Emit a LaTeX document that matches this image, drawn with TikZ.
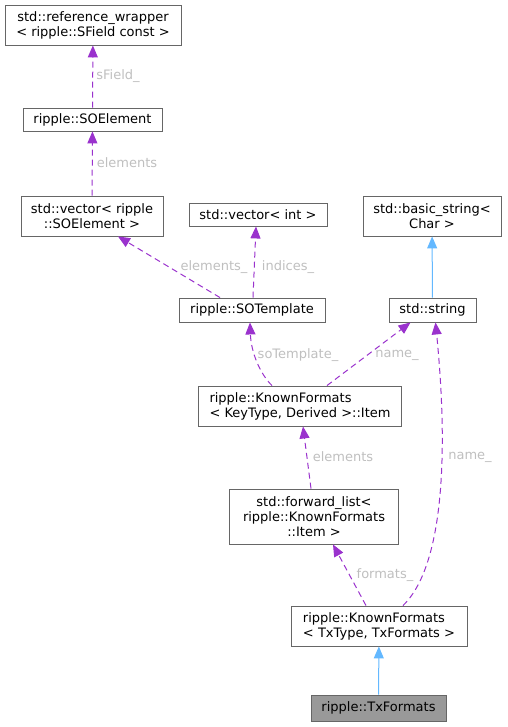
\documentclass[tikz,border=0pt]{standalone}
\usepackage{fontspec}
\setmainfont{DejaVu Sans}
\usepackage{tikz}
\usetikzlibrary{positioning,arrows.meta}
\definecolor{usecol}{HTML}{9A32CD}
\definecolor{inhcol}{HTML}{63B8FF}
\definecolor{boxgray}{HTML}{666666}
\definecolor{lblgray}{HTML}{BFBFBF}
\definecolor{curfill}{HTML}{999999}

\begin{document}
\begin{tikzpicture}[x=1pt,y=-1pt,
  cls/.style={draw=boxgray,line width=0.9pt,inner sep=0pt,font=\fontsize{13}{15}\selectfont},
  lbl/.style={text=lblgray,inner sep=0pt,font=\fontsize{13}{15}\selectfont},
  uses/.style={usecol,line width=1pt,dash pattern=on 6pt off 4pt,-{Triangle[length=12pt,width=10pt]}},
  isa/.style={inhcol,line width=1pt,-{Triangle[length=12pt,width=10pt]}}]
\useasboundingbox (0,0) rectangle (507,727);
\node (refw) at (93,25) [cls,minimum width=176pt,minimum height=40pt,align=center] {std::reference\_wrapper\\< ripple::SField const >};
\node (soel) at (92.5,119.5) [cls,minimum width=139pt,minimum height=23pt] {ripple::SOElement};
\node (vecel) at (92,216) [cls,minimum width=142pt,minimum height=40pt,align=center] {std::vector< ripple\\::SOElement >};
\node (vecint) at (258,214.5) [cls,minimum width=138pt,minimum height=23pt] {std::vector< int >};
\node (bstr) at (432,216) [cls,minimum width=138pt,minimum height=40pt,align=center] {std::basic\_string<\\Char >};
\node (sotpl) at (252,310) [cls,minimum width=146pt,minimum height=24pt] {ripple::SOTemplate};
\node (str) at (432.5,310) [cls,minimum width=87pt,minimum height=24pt] {std::string};
\node (item) at (300,406) [cls,minimum width=203pt,minimum height=40pt,align=left] {ripple::KnownFormats\\< KeyType, Derived >::Item};
\node (flist) at (314,516.5) [cls,minimum width=169pt,minimum height=55pt,align=center] {std::forward\_list<\\ripple::KnownFormats\\::Item >};
\node (kf) at (379,626) [cls,minimum width=176pt,minimum height=40pt,align=left] {ripple::KnownFormats\\< TxType, TxFormats >};
\node (txf) at (378.5,708) [cls,fill=curfill,minimum width=135pt,minimum height=26pt] {ripple::TxFormats};

\draw[uses] (soel) -- (refw);
\draw[uses] (vecel) -- (soel);
\draw[uses] ([xshift=-32pt]sotpl.north) -- ([xshift=26pt]vecel.south);
\draw[uses] ([xshift=1pt]sotpl.north) -- ([xshift=-2pt]vecint.south);
\draw[isa] (str) -- (bstr);
\draw[uses] ([xshift=-28pt]item.north) .. controls (260,374) and (251,352) .. ([xshift=-2pt]sotpl.south);
\draw[uses] ([xshift=27pt]item.north) -- ([xshift=-22pt]str.south);
\draw[uses] ([xshift=-3pt]flist.north) -- ([xshift=3pt]item.south);
\draw[uses] ([xshift=-13pt]kf.north) -- ([xshift=19pt]flist.south);
\draw[uses] ([xshift=24pt]kf.north) .. controls (440,570) and (450,470) .. ([xshift=3pt]str.south);
\draw[isa] (txf) -- (kf);

\node (lsf) at (118,76) [lbl] {sField\_};
\node (lel) at (127,163) [lbl] {elements};
\node (lels) at (214,267) [lbl] {elements\_};
\node (lidx) at (288,267) [lbl] {indices\_};
\node (ltpl) at (298,355) [lbl] {soTemplate\_};
\node (lnm) at (397,355) [lbl] {name\_};
\node (lel2) at (343,457) [lbl] {elements};
\node (lnm2) at (470,457) [lbl] {name\_};
\node (lfmt) at (385,575) [lbl] {formats\_};
\end{tikzpicture}
\end{document}
